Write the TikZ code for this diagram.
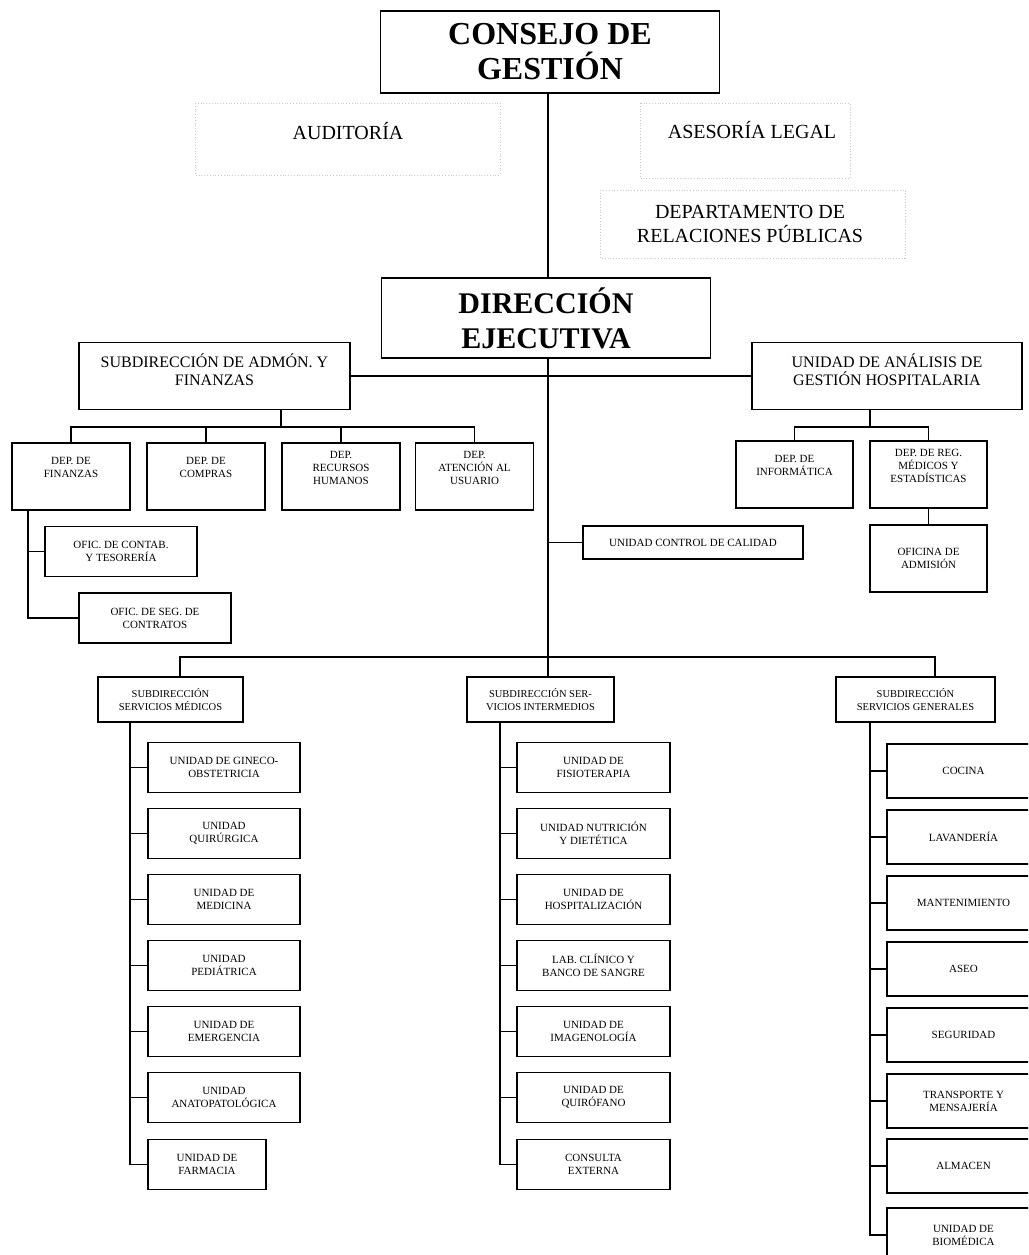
\documentclass[tikz,border=0pt]{standalone}
\usepackage{fontspec}
\setmainfont{Liberation Serif}
\begin{document}
\begin{tikzpicture}[x=1pt,y=-1pt,
    caja/.style={draw,line width=1.5pt,align=center,inner sep=2pt,font=\fontsize{11}{13}\selectfont},
    unidad/.style={caja,minimum width=152,minimum height=50},
    servicio/.style={caja,minimum width=153,minimum height=54},
    depto/.style={caja,minimum width=118,minimum height=67,text depth=18pt},
    subdir/.style={caja,font=\fontsize{10.5}{13}\selectfont,minimum height=45},
    cajab/.style={caja,font=\fontsize{16}{18}\selectfont,minimum width=271,minimum height=67,text depth=13pt},
    titulo/.style={caja,line width=1.8pt,font=\bfseries\fontsize{32}{35}\selectfont},
    staff/.style={align=center,font=\fontsize{20}{24}\selectfont},
    tenue/.style={draw=gray!45,dotted,line width=0.8pt},
    linea/.style={line width=1.6pt}]
    \useasboundingbox (0,0) rectangle (1028,1255);
    \clip (0,0) rectangle (1028,1255);

    % Consejo y direccion
    \node[titulo,minimum width=339,minimum height=82] (consejo) at (550,52) {CONSEJO DE\\GESTIÓN};
    \node[titulo,font=\bfseries\fontsize{30}{35}\selectfont,minimum width=329,minimum height=80] (direccion) at (546,318) {DIRECCIÓN\\EJECUTIVA};
    \coordinate (eje) at (548,0);

    % Staff (cajas borradas)
    \draw[tenue] (195,103) rectangle (500,175);
    \draw[tenue] (640,103) rectangle (850,178);
    \draw[tenue] (600,190) rectangle (905,258);
    \node[staff] (auditoria) at (348,131) {AUDITORÍA};
    \node[staff] (asesoria) at (752,130) {ASESORÍA LEGAL};
    \node[staff] (relaciones) at (750,224) {DEPARTAMENTO DE\\RELACIONES PÚBLICAS};

    % Subdireccion de admon
    \node[cajab] (admon) at (214.5,376) {SUBDIRECCIÓN DE ADMÓN. Y\\FINANZAS};
    \node[depto] (finanzas) at (71,476.5) {DEP. DE\\FINANZAS};
    \node[depto] (compras) at (206,476.5) {DEP. DE\\COMPRAS};
    \node[depto] (rrhh) at (341,476.5) {DEP.\\RECURSOS\\HUMANOS};
    \node[depto] (atencion) at (474.5,476.5) {DEP.\\ATENCIÓN AL\\USUARIO};
    \node[unidad] (contab) at (121,551.5) {OFIC. DE CONTAB.\\Y TESORERÍA};
    \node[unidad] (contratos) at (155,618) {OFIC. DE SEG. DE\\CONTRATOS};

    % Analisis de gestion
    \node[cajab,minimum width=270] (analisis) at (887,376) {UNIDAD DE ANÁLISIS DE\\GESTIÓN HOSPITALARIA};
    \node[depto,minimum width=117] (informatica) at (794.5,474.5) {DEP. DE\\INFORMÁTICA};
    \node[depto,minimum width=117] (registros) at (928.5,474.5) {DEP. DE REG.\\MÉDICOS Y\\ESTADÍSTICAS};
    \node[caja,minimum width=117,minimum height=67] (admision) at (928.5,558.5) {OFICINA DE\\ADMISIÓN};
    \node[caja,minimum width=220,minimum height=33] (calidad) at (693,542.5) {UNIDAD CONTROL DE CALIDAD};

    % Subdirecciones
    \node[subdir,minimum width=145] (medicos) at (170.5,699.5) {SUBDIRECCIÓN\\SERVICIOS MÉDICOS};
    \node[subdir,minimum width=147] (intermedios) at (540.5,699.5) {SUBDIRECCIÓN SER-\\VICIOS INTERMEDIOS};
    \node[subdir,minimum width=159] (generales) at (915.5,699.5) {SUBDIRECCIÓN\\SERVICIOS GENERALES};

    % Servicios medicos
    \node[unidad] (gineco) at (224,767.5) {UNIDAD DE GINECO-\\OBSTETRICIA};
    \node[unidad] (quirurgica) at (224,833.5) {UNIDAD\\QUIRÚRGICA};
    \node[unidad] (medicina) at (224,899.5) {UNIDAD DE\\MEDICINA};
    \node[unidad] (pediatrica) at (224,965.5) {UNIDAD\\PEDIÁTRICA};
    \node[unidad] (emergencia) at (224,1031.5) {UNIDAD DE\\EMERGENCIA};
    \node[unidad] (anatomia) at (224,1097.5) {UNIDAD\\ANATOPATOLÓGICA};
    \node[unidad,minimum width=118] (farmacia) at (207,1164.5) {UNIDAD DE\\FARMACIA};

    % Servicios intermedios
    \node[unidad,minimum width=153] (fisioterapia) at (593.5,767.5) {UNIDAD DE\\FISIOTERAPIA};
    \node[unidad,minimum width=153] (nutricion) at (593.5,833.5) {UNIDAD NUTRICIÓN\\Y DIETÉTICA};
    \node[unidad,minimum width=153] (hospitalizacion) at (593.5,899.5) {UNIDAD DE\\HOSPITALIZACIÓN};
    \node[unidad,minimum width=153] (laboratorio) at (593.5,965.5) {LAB. CLÍNICO Y\\BANCO DE SANGRE};
    \node[unidad,minimum width=153] (imagenologia) at (593.5,1031.5) {UNIDAD DE\\IMAGENOLOGÍA};
    \node[unidad,minimum width=153] (quirofano) at (593.5,1097.5) {UNIDAD DE\\QUIRÓFANO};
    \node[unidad,minimum width=153] (consulta) at (593.5,1164.5) {CONSULTA\\EXTERNA};

    % Servicios generales
    \node[servicio] (cocina) at (963.5,771) {COCINA};
    \node[servicio] (lavanderia) at (963.5,837) {LAVANDERÍA};
    \node[servicio] (mantenimiento) at (963.5,903) {MANTENIMIENTO};
    \node[servicio] (aseo) at (963.5,969) {ASEO};
    \node[servicio] (seguridad) at (963.5,1035) {SEGURIDAD};
    \node[servicio] (transporte) at (963.5,1101) {TRANSPORTE Y\\MENSAJERÍA};
    \node[servicio] (almacen) at (963.5,1166) {ALMACEN};
    \node[servicio] (biomedica) at (963.5,1235) {UNIDAD DE\\BIOMÉDICA};

    % Lineas principales
    \draw[linea] (consejo.south -| eje) -- (direccion.north -| eje);
    \draw[linea] (direccion.south -| eje) -- (intermedios.north -| eje);
    \draw[linea] (admon.east) -- (analisis.west);
    \draw[linea] (calidad.west -| eje) -- (calidad.west);

    % Ramas de admon
    \coordinate (barA) at (281,427);
    \draw[linea] (admon.south -| barA) -- (barA);
    \draw[linea] (finanzas.north) -- (finanzas.north |- barA) -- (atencion.north |- barA) -- (atencion.north);
    \draw[linea] (compras.north) -- (compras.north |- barA);
    \draw[linea] (rrhh.north) -- (rrhh.north |- barA);
    \coordinate (ejeF) at (28,0);
    \draw[linea] (finanzas.south -| ejeF) |- (contratos.west);
    \draw[linea] (contab.west) -- (contab.west -| ejeF);

    % Ramas de analisis
    \coordinate (barB) at (870,427);
    \draw[linea] (analisis.south -| barB) -- (barB);
    \draw[linea] (informatica.north) |- (barB) -| (registros.north);
    \draw[linea] (registros.south) -- (admision.north);

    % Barra inferior
    \coordinate (bajaM) at (180,657);
    \coordinate (bajaG) at (935,657);
    \draw[linea] (medicos.north -| bajaM) -- (bajaM) -- (bajaG) -- (generales.north -| bajaG);

    % Columnas
    \coordinate (ejeM) at (130,0);
    \draw[linea] (medicos.south -| ejeM) |- (farmacia.west);
    \draw[linea] (gineco.west) -- (gineco.west -| ejeM);
    \draw[linea] (quirurgica.west) -- (quirurgica.west -| ejeM);
    \draw[linea] (medicina.west) -- (medicina.west -| ejeM);
    \draw[linea] (pediatrica.west) -- (pediatrica.west -| ejeM);
    \draw[linea] (emergencia.west) -- (emergencia.west -| ejeM);
    \draw[linea] (anatomia.west) -- (anatomia.west -| ejeM);

    \coordinate (ejeI) at (500,0);
    \draw[linea] (intermedios.south -| ejeI) |- (consulta.west);
    \draw[linea] (fisioterapia.west) -- (fisioterapia.west -| ejeI);
    \draw[linea] (nutricion.west) -- (nutricion.west -| ejeI);
    \draw[linea] (hospitalizacion.west) -- (hospitalizacion.west -| ejeI);
    \draw[linea] (laboratorio.west) -- (laboratorio.west -| ejeI);
    \draw[linea] (imagenologia.west) -- (imagenologia.west -| ejeI);
    \draw[linea] (quirofano.west) -- (quirofano.west -| ejeI);

    \coordinate (ejeG) at (870,0);
    \draw[linea] (generales.south -| ejeG) |- (biomedica.west);
    \draw[linea] (cocina.west) -- (cocina.west -| ejeG);
    \draw[linea] (lavanderia.west) -- (lavanderia.west -| ejeG);
    \draw[linea] (mantenimiento.west) -- (mantenimiento.west -| ejeG);
    \draw[linea] (aseo.west) -- (aseo.west -| ejeG);
    \draw[linea] (seguridad.west) -- (seguridad.west -| ejeG);
    \draw[linea] (transporte.west) -- (transporte.west -| ejeG);
    \draw[linea] (almacen.west) -- (almacen.west -| ejeG);
\end{tikzpicture}
\end{document}
